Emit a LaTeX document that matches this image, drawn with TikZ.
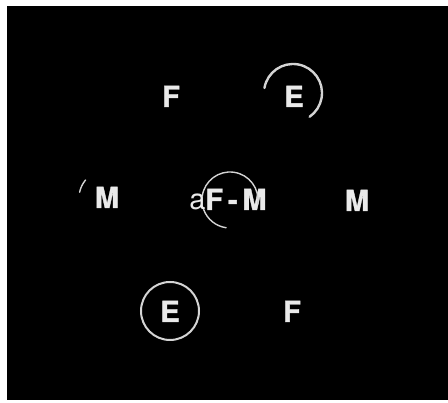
\documentclass[tikz,border=0pt]{standalone}
\usepackage{fontspec}
\setmainfont{TeX Gyre Heros}[BoldFeatures={FakeBold=1.2}]
\definecolor{lbl}{HTML}{EAEAEA}
\definecolor{ring}{HTML}{D4D4D4}
\begin{document}
\begin{tikzpicture}[x=1pt,y=1pt,
  lab/.style={text=lbl,font=\fontsize{29}{30}\selectfont\bfseries,inner sep=0pt,anchor=base},
  arcline/.style={draw=ring,line width=1.8pt,line cap=round}]
\useasboundingbox (0,0) rectangle (448,403);
\fill[white] (0,0) rectangle (448,403);
\fill[black] (7,3) rectangle (448,397);
% wells / labels (base = image bottom of caps)
\node[lab] (F1) at (171,{403-107}) {F};
\node[lab] (E1) at (294,{403-107}) {E};
\node[lab] (M1) at (107,{403-208}) {M};
\node[lab] (C)  at (228,{403-210}) {\textmd{a}F\,-\,M};
\node[lab] (M2) at (357,{403-211}) {M};
\node[lab] (E2) at (170,{403-322}) {E};
\node[lab] (F2) at (292,{403-322}) {F};
% precipitin arcs
\draw[arcline,line width=2.4pt] ([shift={(170:29)}]293,{403-93}) arc[start angle=170,end angle=-55,radius=29];
\draw[arcline,line width=1.4pt] ([shift={(172:28)}]230,{403-200}) arc[start angle=172,end angle=-8,radius=28];
\draw[arcline,line width=1.4pt] ([shift={(200:28)}]230,{403-200}) arc[start angle=200,end angle=262,radius=28];
\draw[arcline,line width=1.4pt] ([shift={(168:28)}]107,{403-198}) arc[start angle=168,end angle=140,radius=28];
\draw[arcline,line width=2pt] (170,{403-311}) circle[radius=29];
\end{tikzpicture}
\end{document}
